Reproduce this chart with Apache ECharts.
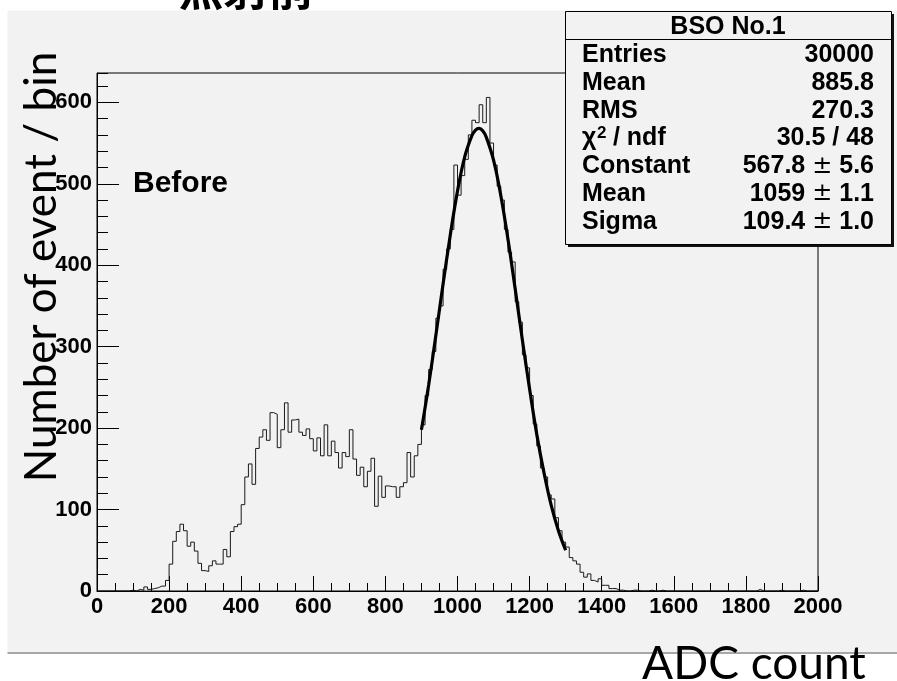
<!DOCTYPE html>
<html>
<head>
<meta charset="utf-8">
<script src="https://cdn.jsdelivr.net/npm/echarts@6/dist/echarts.min.js"></script>
<style>
html,body{margin:0;padding:0;background:#fff;}
#chart{width:897px;height:681px;}
</style>
</head>
<body>
<div id="chart"></div>
<script>
// ---- data ----
const binStart = 0;
const binWidth = 10;
// counts per 10-unit ADC bin, 0 .. 2000
const counts = [
  0,0,0,0,0,0,0,0,0,1,
  0,2,1,5,2,3,4,6,6,13,
  33,61,73,82,74,55,60,49,34,25,
  24,31,37,33,33,51,42,73,79,82,
  106,140,156,131,175,189,198,185,219,217,
  176,198,231,195,210,211,195,191,199,187,
  172,188,166,204,166,184,170,151,170,165,
  198,162,142,152,128,147,163,104,141,115,
  129,128,128,115,128,133,170,140,166,180,
  204,240,272,294,335,350,395,420,444,523,
  486,510,530,560,578,575,597,575,606,550,
  523,497,480,444,416,404,355,330,290,274,
  240,205,178,151,140,118,113,90,74,60,
  54,41,37,33,23,17,21,13,11,15,
  7,7,3,3,1,1,0,0,1,1,
  0,0,0,1,0,0,1,0,0,0,
  0,0,0,0,0,0,0,0,0,0,
  0,0,0,0,0,0,0,0,0,0,
  0,0,0,2,0,0,0,0,0,1,
  0,0,0,0,0,1,0,0,0,0
];
// fitted curve, points
const fitX = [900,920,940,960,980,1000,1020,1040,1050,1060,1070,1080,1100,1120,1140,1160,1180,1200,1220,1240,1260,1280,1300];
const fitY = [198,253,314,377,437,491,533,559,566,568,565,557,529,486,432,371,308,248,192,145,105,74,50];
// axes
const xRange = [0, 2000];
const yRange = [0, 636];
// stats box
const statsTitle = 'BSO No.1';
const statsLabels = ['Entries','Mean','RMS','chi','Constant','Mean','Sigma'];
const statsValues = ['30000','885.8','270.3','30.5 / 48',['567.8','5.6'],['1059','1.1'],['109.4','1.0']];
const titleText = '照射前';
const xTitle = 'ADC count';
const yTitle = 'Number of event / bin';
const noteText = 'Before';

// ---- build ----
const histData = counts.map((c, i) => [binStart + i * binWidth, c]);
histData.push([binStart + counts.length * binWidth, counts[counts.length - 1]]);
const fitData = fitX.map((x, i) => [x, fitY[i]]);

const chart = echarts.init(document.getElementById('chart'), null, {renderer: 'canvas'});
const labelFont = {fontFamily: '"Liberation Sans", Arial, sans-serif', fontWeight: 'bold', fontSize: 22, color: '#000'};

const G = {left: 97, top: 73, width: 721, height: 518};
const box = {x: 565.5, y: 11.5, w: 326, h: 233};
const rowY0 = 55.5, rowStep = 27.7;
const SF = 'bold 25px "Liberation Sans", Arial';

const statsEls = [];
statsEls.push({type: 'rect', z: 100, shape: {x: box.x + 2.5, y: box.y + 2.5, width: box.w, height: box.h}, style: {fill: '#111'}});
statsEls.push({type: 'rect', z: 101, shape: {x: box.x, y: box.y, width: box.w, height: box.h}, style: {fill: '#f2f2f2', stroke: '#000', lineWidth: 1}});
statsEls.push({type: 'line', z: 102, shape: {x1: box.x, y1: 39.5, x2: box.x + box.w, y2: 39.5}, style: {stroke: '#000', lineWidth: 1}});
statsEls.push({type: 'text', z: 103, x: 728, y: 27.5, style: {text: statsTitle, font: SF, fill: '#000', align: 'center', verticalAlign: 'middle'}});
statsLabels.forEach((lab, i) => {
  const yy = rowY0 + i * rowStep;
  if (lab === 'chi') {
    statsEls.push({type: 'text', z: 103, x: 582, y: yy, style: {text: 'χ', font: SF, fill: '#000', align: 'left', verticalAlign: 'middle'}});
    statsEls.push({type: 'text', z: 103, x: 597, y: yy - 5, style: {text: '2', font: 'bold 17px "Liberation Sans", Arial', fill: '#000', align: 'left', verticalAlign: 'middle'}});
    statsEls.push({type: 'text', z: 103, x: 606, y: yy, style: {text: ' / ndf', font: SF, fill: '#000', align: 'left', verticalAlign: 'middle'}});
  } else {
    statsEls.push({type: 'text', z: 103, x: 582, y: yy, style: {text: lab, font: SF, fill: '#000', align: 'left', verticalAlign: 'middle'}});
  }
  const v = statsValues[i];
  let st;
  if (Array.isArray(v)) {
    st = {text: '{v|' + v[0] + ' }{p|±}{v| ' + v[1] + '}', rich: {v: {font: SF, fill: '#000'}, p: {font: '24px "DejaVu Sans", Arial', fill: '#000'}}, align: 'right', verticalAlign: 'middle'};
  } else {
    st = {text: v, font: SF, fill: '#000', align: 'right', verticalAlign: 'middle'};
  }
  statsEls.push({type: 'text', z: 103, x: 874, y: yy, style: st});
});

const option = {
  animation: false,
  backgroundColor: '#ffffff',
  grid: {left: G.left, top: G.top, width: G.width, height: G.height, show: true, borderColor: '#000', borderWidth: 1, backgroundColor: 'rgba(0,0,0,0)', z: 5},
  xAxis: [
    {type: 'value', min: xRange[0], max: xRange[1], interval: 200, position: 'bottom',
     axisLine: {show: true, onZero: false, lineStyle: {color: '#000', width: 1}},
     axisTick: {show: true, inside: true, length: 15, lineStyle: {color: '#000', width: 1}},
     axisLabel: Object.assign({margin: 5, showMinLabel: true, showMaxLabel: true, formatter: v => String(v)}, labelFont),
     splitLine: {show: false}},
    {type: 'value', min: xRange[0], max: xRange[1], interval: 50, position: 'bottom',
     axisLine: {show: false, onZero: false},
     axisTick: {show: true, inside: true, length: 8, lineStyle: {color: '#000', width: 1}},
     axisLabel: {show: false}, splitLine: {show: false}}
  ],
  yAxis: [
    {type: 'value', min: yRange[0], max: yRange[1], interval: 100, position: 'left',
     axisLine: {show: true, onZero: false, lineStyle: {color: '#000', width: 1}},
     axisTick: {show: true, inside: true, length: 22, lineStyle: {color: '#000', width: 1}},
     axisLabel: Object.assign({margin: 5, showMaxLabel: false, formatter: v => (v % 100 === 0 ? String(v) : '')}, labelFont),
     splitLine: {show: false}},
    {type: 'value', min: yRange[0], max: yRange[1], interval: 20, position: 'left',
     axisLine: {show: false, onZero: false},
     axisTick: {show: true, inside: true, length: 11, lineStyle: {color: '#000', width: 1}},
     axisLabel: {show: false}, splitLine: {show: false}}
  ],
  series: [
    {type: 'line', name: 'hist', data: histData, step: 'end', symbol: 'none', xAxisIndex: 0, yAxisIndex: 0,
     lineStyle: {color: '#1a1a1a', width: 1}, z: 3},
    {type: 'line', name: 'fit', data: fitData, smooth: 0.4, symbol: 'none', xAxisIndex: 0, yAxisIndex: 0,
     lineStyle: {color: '#000', width: 3.2}, z: 4}
  ],
  graphic: {elements: [
    {type: 'rect', z: -10, silent: true, shape: {x: 7.5, y: 10.5, width: 900, height: 642}, style: {fill: '#f2f2f2'}},
    {type: 'line', z: -9, shape: {x1: 7.5, y1: 653, x2: 897, y2: 653}, style: {stroke: '#a8a8a8', lineWidth: 2}},
    {type: 'text', z: 50, x: 246, y: 11, style: {text: titleText, font: 'bold 45px "Noto Sans CJK JP"', fill: '#000', align: 'center', verticalAlign: 'bottom'}},
    {type: 'text', z: 50, x: 133, y: 184, style: {text: noteText, font: 'bold 30px "Liberation Sans", Arial', fill: '#000', align: 'left', verticalAlign: 'middle'}},
    {type: 'text', z: 50, x: 42, y: 267, rotation: Math.PI / 2, style: {text: yTitle, font: '44px Lato', fill: '#000', align: 'center', verticalAlign: 'middle'}},
    {type: 'text', z: 50, x: 642, y: 664, style: {text: xTitle, font: '46px Lato', fill: '#000', align: 'left', verticalAlign: 'middle'}}
  ].concat(statsEls)}
};
chart.setOption(option);
</script>
</body>
</html>
